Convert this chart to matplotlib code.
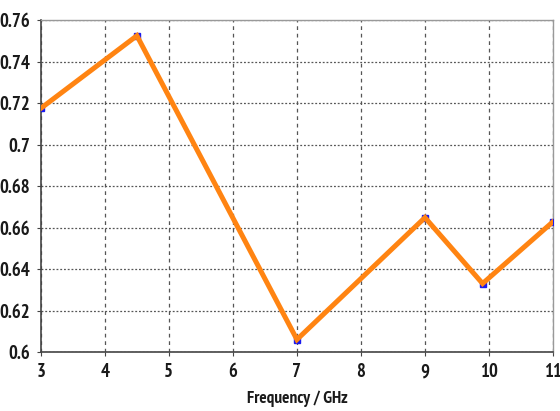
import matplotlib.pyplot as plt

freq = [3, 4.5, 7, 9, 9.9, 11]
values = [0.7175, 0.7525, 0.606, 0.6648, 0.633, 0.6628]
xticks = [3, 4, 5, 6, 7, 8, 9, 10, 11]
yticks = [0.6, 0.62, 0.64, 0.66, 0.68, 0.7, 0.72, 0.74, 0.76]
ytick_labels = ['0.6', '0.62', '0.64', '0.66', '0.68', '0.7', '0.72', '0.74', '0.76']

plt.rcParams['font.family'] = ['PT Sans Narrow', 'DejaVu Sans']

fig = plt.figure(figsize=(5.6, 4.11), dpi=100)
ax = fig.add_axes([0.073, 0.1436, 0.9145, 0.8074])

ax.plot(freq, values, color='#1a1aee', marker='s', markersize=5, linestyle='none', zorder=3)
ax.plot(freq, values, color='#ff8412', linewidth=3.6, zorder=4, solid_joinstyle='miter')

ax.set_xlim(3, 11)
ax.set_ylim(0.6, 0.76)
ax.set_xticks(xticks)
ax.set_yticks(yticks)
ax.set_yticklabels(ytick_labels)

ax.xaxis.grid(True, linestyle=(0, (3, 3)), color='#555555', linewidth=0.9)
ax.yaxis.grid(True, linestyle=(0, (1.5, 1.5)), color='#555555', linewidth=0.9)

for s in ['left', 'bottom']:
    ax.spines[s].set_color('#444444')
    ax.spines[s].set_linewidth(1.2)
for s in ['top', 'right']:
    ax.spines[s].set_color('#999999')
    ax.spines[s].set_linewidth(1.0)

ax.tick_params(direction='out', length=3, color='#444444', labelsize=13.5, pad=5)
for lbl in ax.get_xticklabels() + ax.get_yticklabels():
    lbl.set_fontweight('bold')
    lbl.set_color('#1a1a1a')

ax.set_xlabel('Frequency / GHz', fontsize=12.5, fontweight='bold', color='#1a1a1a', labelpad=7)

fig.savefig('out.png', dpi=100)
